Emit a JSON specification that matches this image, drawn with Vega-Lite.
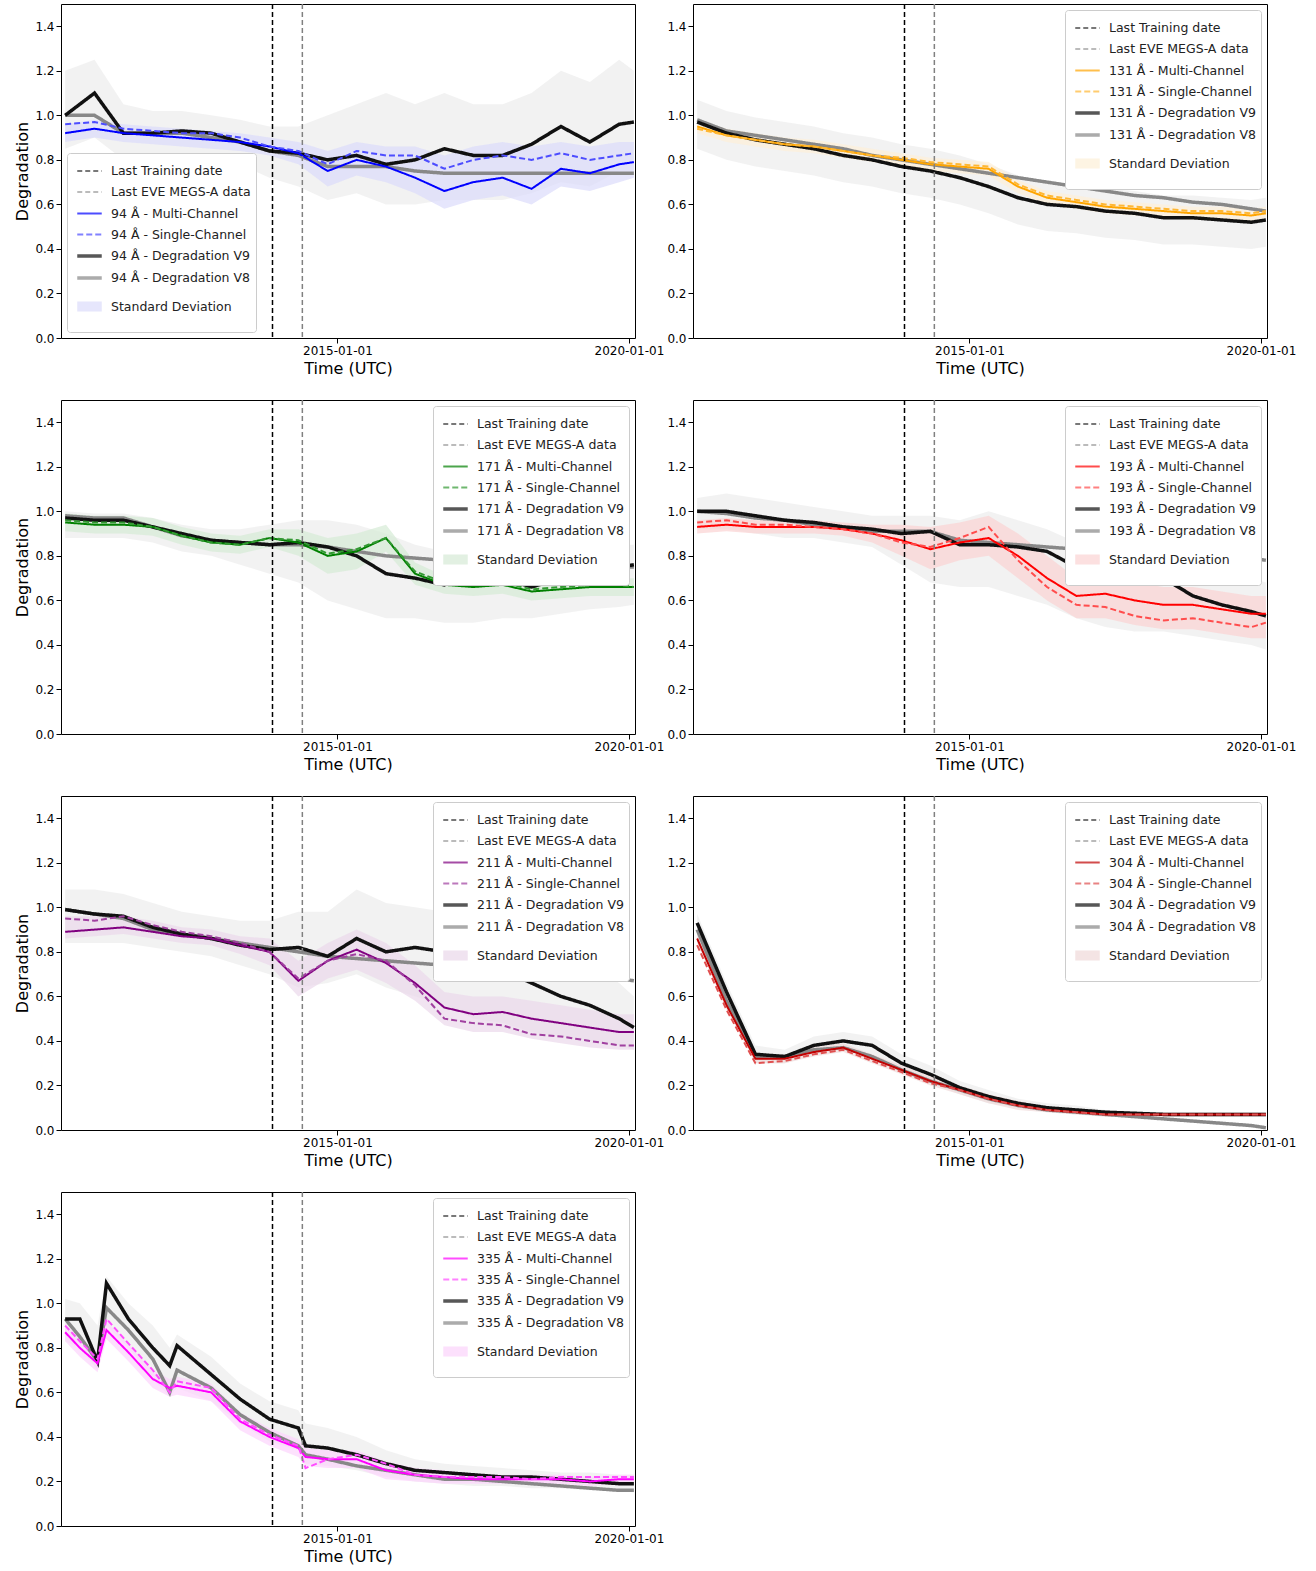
{
"$schema":"https://vega.github.io/schema/vega-lite/v6.json",
"columns":2,
"spacing":{"row":21,"column":1},
"padding":{"left":14,"top":2,"right":4,"bottom":4},
"resolve":{"scale":{"color":"independent","strokeDash":"independent","strokeWidth":"independent","x":"independent","y":"independent"},"legend":{"color":"independent","strokeDash":"independent","strokeWidth":"independent"}},
"concat":[
{"width":574,"height":334,
"data":{"values":[
{"d":"2010-05-01","m":0.92,"s":0.96,"v9":1.00,"v8":1.00,"lo":0.88,"hi":0.96,"gl":0.85,"gh":1.20},
{"d":"2010-11-01","m":0.94,"s":0.97,"v9":1.10,"v8":1.00,"lo":0.90,"hi":0.98,"gl":0.90,"gh":1.25},
{"d":"2011-05-01","m":0.92,"s":0.94,"v9":0.92,"v8":0.92,"lo":0.88,"hi":0.96,"gl":0.80,"gh":1.05},
{"d":"2011-11-01","m":0.91,"s":0.93,"v9":0.92,"v8":0.92,"lo":0.87,"hi":0.95,"gl":0.82,"gh":1.02},
{"d":"2012-05-01","m":0.90,"s":0.92,"v9":0.93,"v8":0.92,"lo":0.86,"hi":0.94,"gl":0.83,"gh":1.02},
{"d":"2012-11-01","m":0.89,"s":0.92,"v9":0.92,"v8":0.90,"lo":0.85,"hi":0.93,"gl":0.82,"gh":1.00},
{"d":"2013-05-01","m":0.88,"s":0.90,"v9":0.88,"v8":0.88,"lo":0.84,"hi":0.92,"gl":0.78,"gh":0.98},
{"d":"2013-11-01","m":0.86,"s":0.86,"v9":0.84,"v8":0.84,"lo":0.82,"hi":0.90,"gl":0.72,"gh":0.95},
{"d":"2014-05-01","m":0.83,"s":0.84,"v9":0.83,"v8":0.82,"lo":0.78,"hi":0.88,"gl":0.68,"gh":0.95},
{"d":"2014-11-01","m":0.75,"s":0.78,"v9":0.80,"v8":0.77,"lo":0.68,"hi":0.84,"gl":0.62,"gh":1.00},
{"d":"2015-05-01","m":0.80,"s":0.84,"v9":0.82,"v8":0.77,"lo":0.73,"hi":0.88,"gl":0.65,"gh":1.05},
{"d":"2015-11-01","m":0.77,"s":0.82,"v9":0.78,"v8":0.77,"lo":0.70,"hi":0.86,"gl":0.60,"gh":1.10},
{"d":"2016-05-01","m":0.72,"s":0.82,"v9":0.80,"v8":0.75,"lo":0.65,"hi":0.86,"gl":0.60,"gh":1.05},
{"d":"2016-11-01","m":0.66,"s":0.76,"v9":0.85,"v8":0.74,"lo":0.58,"hi":0.82,"gl":0.62,"gh":1.10},
{"d":"2017-05-01","m":0.70,"s":0.80,"v9":0.82,"v8":0.74,"lo":0.62,"hi":0.86,"gl":0.62,"gh":1.05},
{"d":"2017-11-01","m":0.72,"s":0.82,"v9":0.82,"v8":0.74,"lo":0.64,"hi":0.88,"gl":0.62,"gh":1.05},
{"d":"2018-05-01","m":0.67,"s":0.80,"v9":0.87,"v8":0.74,"lo":0.60,"hi":0.86,"gl":0.65,"gh":1.10},
{"d":"2018-11-01","m":0.76,"s":0.83,"v9":0.95,"v8":0.74,"lo":0.68,"hi":0.88,"gl":0.70,"gh":1.20},
{"d":"2019-05-01","m":0.74,"s":0.80,"v9":0.88,"v8":0.74,"lo":0.66,"hi":0.86,"gl":0.68,"gh":1.15},
{"d":"2019-11-01","m":0.78,"s":0.82,"v9":0.96,"v8":0.74,"lo":0.70,"hi":0.88,"gl":0.75,"gh":1.25},
{"d":"2020-02-01","m":0.79,"s":0.83,"v9":0.97,"v8":0.74,"lo":0.72,"hi":0.88,"gl":0.75,"gh":1.20}]},
"encoding":{"x":{"field":"d","type":"temporal","title":"Time (UTC)","scale":{"domain":["2010-04-05","2020-02-08"]},"axis":{"values":[{"year":2015,"month":1,"date":1},{"year":2020,"month":1,"date":1}],"format":"%Y-%m-%d"}}},
"layer":[
{"mark":{"type":"area","color":"#d9d9d9","opacity":0.35},"encoding":{"y":{"field":"gl","type":"quantitative","title":"Degradation","scale":{"domain":[0,1.5],"nice":false},"axis":{"values":[0,0.2,0.4,0.6,0.8,1,1.2,1.4],"format":".1f"}},"y2":{"field":"gh"}}},
{"transform":[{"fold":["lo"],"as":["k","val"]}],"mark":{"type":"area","opacity":0.7},"encoding":{"y":{"field":"val","type":"quantitative","title":"Degradation"},"y2":{"field":"hi"},
"color":{"field":"k","type":"nominal","scale":{"domain":["tr","eve","m","s","v9","v8","lo"],"range":["#000000","#808080","#0000ff","#4d4dff","#111111","#888888","#dcdcfb"]},"legend":{"title":null,"orient":"bottom-left","symbolType":"stroke","labelExpr":"{'tr':'Last Training date','eve':'Last EVE MEGS-A data','m':'94 Å - Multi-Channel','s':'94 Å - Single-Channel','v9':'94 Å - Degradation V9','v8':'94 Å - Degradation V8','lo':'Standard Deviation'}[datum.value]"}}}},
{"transform":[{"fold":["v8","v9","m","s"],"as":["k","val"]}],"mark":{"type":"line"},"encoding":{"y":{"field":"val","type":"quantitative","title":"Degradation"},
"color":{"field":"k","type":"nominal","scale":{"domain":["tr","eve","m","s","v9","v8","lo"],"range":["#000000","#808080","#0000ff","#4d4dff","#111111","#888888","#dcdcfb"]},"legend":{"title":null,"orient":"bottom-left","symbolType":"stroke","labelExpr":"{'tr':'Last Training date','eve':'Last EVE MEGS-A data','m':'94 Å - Multi-Channel','s':'94 Å - Single-Channel','v9':'94 Å - Degradation V9','v8':'94 Å - Degradation V8','lo':'Standard Deviation'}[datum.value]"}},
"strokeDash":{"field":"k","type":"nominal","scale":{"domain":["tr","eve","m","s","v9","v8","lo"],"range":[[5,3],[5,3],[1,0],[6,3],[1,0],[1,0],[1,0]]},"legend":{"title":null,"orient":"bottom-left","symbolType":"stroke","labelExpr":"{'tr':'Last Training date','eve':'Last EVE MEGS-A data','m':'94 Å - Multi-Channel','s':'94 Å - Single-Channel','v9':'94 Å - Degradation V9','v8':'94 Å - Degradation V8','lo':'Standard Deviation'}[datum.value]"}},
"strokeWidth":{"field":"k","type":"nominal","scale":{"type":"ordinal","domain":["tr","eve","m","s","v9","v8","lo"],"range":[1.5,1.5,2,2,3.5,3.5,10]},"legend":{"title":null,"orient":"bottom-left","symbolType":"stroke","labelExpr":"{'tr':'Last Training date','eve':'Last EVE MEGS-A data','m':'94 Å - Multi-Channel','s':'94 Å - Single-Channel','v9':'94 Å - Degradation V9','v8':'94 Å - Degradation V8','lo':'Standard Deviation'}[datum.value]"}}}},
{"data":{"values":[{"k":"tr","d":"2013-11-20"},{"k":"eve","d":"2014-05-26"}]},"mark":"rule","encoding":{
"color":{"field":"k","type":"nominal","scale":{"domain":["tr","eve","m","s","v9","v8","lo"],"range":["#000000","#808080","#0000ff","#4d4dff","#111111","#888888","#dcdcfb"]},"legend":{"title":null,"orient":"bottom-left","symbolType":"stroke","labelExpr":"{'tr':'Last Training date','eve':'Last EVE MEGS-A data','m':'94 Å - Multi-Channel','s':'94 Å - Single-Channel','v9':'94 Å - Degradation V9','v8':'94 Å - Degradation V8','lo':'Standard Deviation'}[datum.value]"}},
"strokeDash":{"field":"k","type":"nominal","scale":{"domain":["tr","eve","m","s","v9","v8","lo"],"range":[[5,3],[5,3],[1,0],[6,3],[1,0],[1,0],[1,0]]},"legend":{"title":null,"orient":"bottom-left","symbolType":"stroke","labelExpr":"{'tr':'Last Training date','eve':'Last EVE MEGS-A data','m':'94 Å - Multi-Channel','s':'94 Å - Single-Channel','v9':'94 Å - Degradation V9','v8':'94 Å - Degradation V8','lo':'Standard Deviation'}[datum.value]"}},
"strokeWidth":{"field":"k","type":"nominal","scale":{"type":"ordinal","domain":["tr","eve","m","s","v9","v8","lo"],"range":[1.5,1.5,2,2,3.5,3.5,10]},"legend":{"title":null,"orient":"bottom-left","symbolType":"stroke","labelExpr":"{'tr':'Last Training date','eve':'Last EVE MEGS-A data','m':'94 Å - Multi-Channel','s':'94 Å - Single-Channel','v9':'94 Å - Degradation V9','v8':'94 Å - Degradation V8','lo':'Standard Deviation'}[datum.value]"}}}}
]},
{"width":574,"height":334,
"data":{"values":[
{"d":"2010-05-01","m":0.95,"s":0.94,"v9":0.97,"v8":0.98,"lo":0.92,"hi":0.98,"gl":0.85,"gh":1.07},
{"d":"2010-11-01","m":0.91,"s":0.91,"v9":0.92,"v8":0.93,"lo":0.88,"hi":0.94,"gl":0.80,"gh":1.02},
{"d":"2011-05-01","m":0.89,"s":0.89,"v9":0.89,"v8":0.91,"lo":0.86,"hi":0.92,"gl":0.77,"gh":0.99},
{"d":"2011-11-01","m":0.87,"s":0.87,"v9":0.87,"v8":0.89,"lo":0.84,"hi":0.90,"gl":0.75,"gh":0.97},
{"d":"2012-05-01","m":0.86,"s":0.86,"v9":0.85,"v8":0.87,"lo":0.83,"hi":0.89,"gl":0.73,"gh":0.95},
{"d":"2012-11-01","m":0.84,"s":0.84,"v9":0.82,"v8":0.85,"lo":0.81,"hi":0.87,"gl":0.70,"gh":0.92},
{"d":"2013-05-01","m":0.82,"s":0.82,"v9":0.80,"v8":0.82,"lo":0.79,"hi":0.85,"gl":0.68,"gh":0.90},
{"d":"2013-11-01","m":0.80,"s":0.81,"v9":0.77,"v8":0.80,"lo":0.77,"hi":0.83,"gl":0.65,"gh":0.87},
{"d":"2014-05-01","m":0.78,"s":0.79,"v9":0.75,"v8":0.78,"lo":0.75,"hi":0.81,"gl":0.63,"gh":0.85},
{"d":"2014-11-01","m":0.77,"s":0.78,"v9":0.72,"v8":0.76,"lo":0.74,"hi":0.80,"gl":0.60,"gh":0.82},
{"d":"2015-05-01","m":0.76,"s":0.77,"v9":0.68,"v8":0.74,"lo":0.73,"hi":0.79,"gl":0.56,"gh":0.78},
{"d":"2015-11-01","m":0.68,"s":0.69,"v9":0.63,"v8":0.72,"lo":0.65,"hi":0.71,"gl":0.51,"gh":0.73},
{"d":"2016-05-01","m":0.63,"s":0.64,"v9":0.60,"v8":0.70,"lo":0.60,"hi":0.66,"gl":0.48,"gh":0.70},
{"d":"2016-11-01","m":0.61,"s":0.62,"v9":0.59,"v8":0.68,"lo":0.58,"hi":0.64,"gl":0.47,"gh":0.69},
{"d":"2017-05-01","m":0.59,"s":0.60,"v9":0.57,"v8":0.66,"lo":0.56,"hi":0.62,"gl":0.45,"gh":0.67},
{"d":"2017-11-01","m":0.58,"s":0.59,"v9":0.56,"v8":0.64,"lo":0.55,"hi":0.61,"gl":0.44,"gh":0.66},
{"d":"2018-05-01","m":0.57,"s":0.58,"v9":0.54,"v8":0.63,"lo":0.54,"hi":0.60,"gl":0.42,"gh":0.64},
{"d":"2018-11-01","m":0.56,"s":0.57,"v9":0.54,"v8":0.61,"lo":0.53,"hi":0.59,"gl":0.42,"gh":0.64},
{"d":"2019-05-01","m":0.56,"s":0.57,"v9":0.53,"v8":0.60,"lo":0.53,"hi":0.59,"gl":0.41,"gh":0.63},
{"d":"2019-11-01","m":0.55,"s":0.56,"v9":0.52,"v8":0.58,"lo":0.52,"hi":0.58,"gl":0.40,"gh":0.62},
{"d":"2020-02-01","m":0.56,"s":0.57,"v9":0.53,"v8":0.57,"lo":0.53,"hi":0.59,"gl":0.41,"gh":0.63}]},
"encoding":{"x":{"field":"d","type":"temporal","title":"Time (UTC)","scale":{"domain":["2010-04-05","2020-02-08"]},"axis":{"values":[{"year":2015,"month":1,"date":1},{"year":2020,"month":1,"date":1}],"format":"%Y-%m-%d"}}},
"layer":[
{"mark":{"type":"area","color":"#d9d9d9","opacity":0.35},"encoding":{"y":{"field":"gl","type":"quantitative","title":null,"scale":{"domain":[0,1.5],"nice":false},"axis":{"values":[0,0.2,0.4,0.6,0.8,1,1.2,1.4],"format":".1f"}},"y2":{"field":"gh"}}},
{"transform":[{"fold":["lo"],"as":["k","val"]}],"mark":{"type":"area","opacity":0.7},"encoding":{"y":{"field":"val","type":"quantitative","title":null},"y2":{"field":"hi"},
"color":{"field":"k","type":"nominal","scale":{"domain":["tr","eve","m","s","v9","v8","lo"],"range":["#000000","#808080","#ffa500","#ffb733","#111111","#888888","#fdf0d8"]},"legend":{"title":null,"orient":"top-right","symbolType":"stroke","labelExpr":"{'tr':'Last Training date','eve':'Last EVE MEGS-A data','m':'131 Å - Multi-Channel','s':'131 Å - Single-Channel','v9':'131 Å - Degradation V9','v8':'131 Å - Degradation V8','lo':'Standard Deviation'}[datum.value]"}}}},
{"transform":[{"fold":["v8","v9","m","s"],"as":["k","val"]}],"mark":{"type":"line"},"encoding":{"y":{"field":"val","type":"quantitative","title":null},
"color":{"field":"k","type":"nominal","scale":{"domain":["tr","eve","m","s","v9","v8","lo"],"range":["#000000","#808080","#ffa500","#ffb733","#111111","#888888","#fdf0d8"]},"legend":{"title":null,"orient":"top-right","symbolType":"stroke","labelExpr":"{'tr':'Last Training date','eve':'Last EVE MEGS-A data','m':'131 Å - Multi-Channel','s':'131 Å - Single-Channel','v9':'131 Å - Degradation V9','v8':'131 Å - Degradation V8','lo':'Standard Deviation'}[datum.value]"}},
"strokeDash":{"field":"k","type":"nominal","scale":{"domain":["tr","eve","m","s","v9","v8","lo"],"range":[[5,3],[5,3],[1,0],[6,3],[1,0],[1,0],[1,0]]},"legend":{"title":null,"orient":"top-right","symbolType":"stroke","labelExpr":"{'tr':'Last Training date','eve':'Last EVE MEGS-A data','m':'131 Å - Multi-Channel','s':'131 Å - Single-Channel','v9':'131 Å - Degradation V9','v8':'131 Å - Degradation V8','lo':'Standard Deviation'}[datum.value]"}},
"strokeWidth":{"field":"k","type":"nominal","scale":{"type":"ordinal","domain":["tr","eve","m","s","v9","v8","lo"],"range":[1.5,1.5,2,2,3.5,3.5,10]},"legend":{"title":null,"orient":"top-right","symbolType":"stroke","labelExpr":"{'tr':'Last Training date','eve':'Last EVE MEGS-A data','m':'131 Å - Multi-Channel','s':'131 Å - Single-Channel','v9':'131 Å - Degradation V9','v8':'131 Å - Degradation V8','lo':'Standard Deviation'}[datum.value]"}}}},
{"data":{"values":[{"k":"tr","d":"2013-11-20"},{"k":"eve","d":"2014-05-26"}]},"mark":"rule","encoding":{
"color":{"field":"k","type":"nominal","scale":{"domain":["tr","eve","m","s","v9","v8","lo"],"range":["#000000","#808080","#ffa500","#ffb733","#111111","#888888","#fdf0d8"]},"legend":{"title":null,"orient":"top-right","symbolType":"stroke","labelExpr":"{'tr':'Last Training date','eve':'Last EVE MEGS-A data','m':'131 Å - Multi-Channel','s':'131 Å - Single-Channel','v9':'131 Å - Degradation V9','v8':'131 Å - Degradation V8','lo':'Standard Deviation'}[datum.value]"}},
"strokeDash":{"field":"k","type":"nominal","scale":{"domain":["tr","eve","m","s","v9","v8","lo"],"range":[[5,3],[5,3],[1,0],[6,3],[1,0],[1,0],[1,0]]},"legend":{"title":null,"orient":"top-right","symbolType":"stroke","labelExpr":"{'tr':'Last Training date','eve':'Last EVE MEGS-A data','m':'131 Å - Multi-Channel','s':'131 Å - Single-Channel','v9':'131 Å - Degradation V9','v8':'131 Å - Degradation V8','lo':'Standard Deviation'}[datum.value]"}},
"strokeWidth":{"field":"k","type":"nominal","scale":{"type":"ordinal","domain":["tr","eve","m","s","v9","v8","lo"],"range":[1.5,1.5,2,2,3.5,3.5,10]},"legend":{"title":null,"orient":"top-right","symbolType":"stroke","labelExpr":"{'tr':'Last Training date','eve':'Last EVE MEGS-A data','m':'131 Å - Multi-Channel','s':'131 Å - Single-Channel','v9':'131 Å - Degradation V9','v8':'131 Å - Degradation V8','lo':'Standard Deviation'}[datum.value]"}}}}
]},
{"width":574,"height":334,
"data":{"values":[
{"d":"2010-05-01","m":0.95,"s":0.96,"v9":0.97,"v8":0.98,"lo":0.91,"hi":0.99,"gl":0.88,"gh":1.00},
{"d":"2010-11-01","m":0.94,"s":0.95,"v9":0.96,"v8":0.97,"lo":0.90,"hi":0.98,"gl":0.88,"gh":0.99},
{"d":"2011-05-01","m":0.94,"s":0.95,"v9":0.96,"v8":0.97,"lo":0.90,"hi":0.98,"gl":0.88,"gh":0.99},
{"d":"2011-11-01","m":0.93,"s":0.93,"v9":0.93,"v8":0.93,"lo":0.89,"hi":0.97,"gl":0.86,"gh":0.97},
{"d":"2012-05-01","m":0.89,"s":0.89,"v9":0.90,"v8":0.89,"lo":0.85,"hi":0.93,"gl":0.82,"gh":0.94},
{"d":"2012-11-01","m":0.86,"s":0.86,"v9":0.87,"v8":0.87,"lo":0.82,"hi":0.90,"gl":0.80,"gh":0.92},
{"d":"2013-05-01","m":0.85,"s":0.85,"v9":0.86,"v8":0.86,"lo":0.81,"hi":0.89,"gl":0.76,"gh":0.92},
{"d":"2013-11-01","m":0.88,"s":0.88,"v9":0.85,"v8":0.85,"lo":0.84,"hi":0.92,"gl":0.72,"gh":0.94},
{"d":"2014-05-01","m":0.86,"s":0.87,"v9":0.86,"v8":0.85,"lo":0.80,"hi":0.92,"gl":0.68,"gh":0.96},
{"d":"2014-11-01","m":0.80,"s":0.81,"v9":0.84,"v8":0.84,"lo":0.72,"hi":0.88,"gl":0.60,"gh":0.96},
{"d":"2015-05-01","m":0.82,"s":0.83,"v9":0.80,"v8":0.82,"lo":0.74,"hi":0.90,"gl":0.56,"gh":0.94},
{"d":"2015-11-01","m":0.88,"s":0.88,"v9":0.72,"v8":0.80,"lo":0.82,"hi":0.94,"gl":0.52,"gh":0.90},
{"d":"2016-05-01","m":0.72,"s":0.73,"v9":0.70,"v8":0.79,"lo":0.67,"hi":0.77,"gl":0.52,"gh":0.85},
{"d":"2016-11-01","m":0.67,"s":0.68,"v9":0.67,"v8":0.78,"lo":0.63,"hi":0.71,"gl":0.50,"gh":0.82},
{"d":"2017-05-01","m":0.66,"s":0.67,"v9":0.72,"v8":0.77,"lo":0.62,"hi":0.70,"gl":0.50,"gh":0.82},
{"d":"2017-11-01","m":0.67,"s":0.68,"v9":0.70,"v8":0.77,"lo":0.63,"hi":0.71,"gl":0.52,"gh":0.82},
{"d":"2018-05-01","m":0.64,"s":0.65,"v9":0.66,"v8":0.76,"lo":0.60,"hi":0.68,"gl":0.52,"gh":0.80},
{"d":"2018-11-01","m":0.65,"s":0.66,"v9":0.70,"v8":0.76,"lo":0.61,"hi":0.69,"gl":0.54,"gh":0.82},
{"d":"2019-05-01","m":0.66,"s":0.67,"v9":0.74,"v8":0.75,"lo":0.62,"hi":0.70,"gl":0.56,"gh":0.85},
{"d":"2019-11-01","m":0.66,"s":0.67,"v9":0.75,"v8":0.75,"lo":0.62,"hi":0.70,"gl":0.57,"gh":0.85},
{"d":"2020-02-01","m":0.66,"s":0.66,"v9":0.76,"v8":0.75,"lo":0.62,"hi":0.70,"gl":0.58,"gh":0.85}]},
"encoding":{"x":{"field":"d","type":"temporal","title":"Time (UTC)","scale":{"domain":["2010-04-05","2020-02-08"]},"axis":{"values":[{"year":2015,"month":1,"date":1},{"year":2020,"month":1,"date":1}],"format":"%Y-%m-%d"}}},
"layer":[
{"mark":{"type":"area","color":"#d9d9d9","opacity":0.35},"encoding":{"y":{"field":"gl","type":"quantitative","title":"Degradation","scale":{"domain":[0,1.5],"nice":false},"axis":{"values":[0,0.2,0.4,0.6,0.8,1,1.2,1.4],"format":".1f"}},"y2":{"field":"gh"}}},
{"transform":[{"fold":["lo"],"as":["k","val"]}],"mark":{"type":"area","opacity":0.7},"encoding":{"y":{"field":"val","type":"quantitative","title":"Degradation"},"y2":{"field":"hi"},
"color":{"field":"k","type":"nominal","scale":{"domain":["tr","eve","m","s","v9","v8","lo"],"range":["#000000","#808080","#008000","#339933","#111111","#888888","#d6ebd6"]},"legend":{"title":null,"orient":"top-right","symbolType":"stroke","labelExpr":"{'tr':'Last Training date','eve':'Last EVE MEGS-A data','m':'171 Å - Multi-Channel','s':'171 Å - Single-Channel','v9':'171 Å - Degradation V9','v8':'171 Å - Degradation V8','lo':'Standard Deviation'}[datum.value]"}}}},
{"transform":[{"fold":["v8","v9","m","s"],"as":["k","val"]}],"mark":{"type":"line"},"encoding":{"y":{"field":"val","type":"quantitative","title":"Degradation"},
"color":{"field":"k","type":"nominal","scale":{"domain":["tr","eve","m","s","v9","v8","lo"],"range":["#000000","#808080","#008000","#339933","#111111","#888888","#d6ebd6"]},"legend":{"title":null,"orient":"top-right","symbolType":"stroke","labelExpr":"{'tr':'Last Training date','eve':'Last EVE MEGS-A data','m':'171 Å - Multi-Channel','s':'171 Å - Single-Channel','v9':'171 Å - Degradation V9','v8':'171 Å - Degradation V8','lo':'Standard Deviation'}[datum.value]"}},
"strokeDash":{"field":"k","type":"nominal","scale":{"domain":["tr","eve","m","s","v9","v8","lo"],"range":[[5,3],[5,3],[1,0],[6,3],[1,0],[1,0],[1,0]]},"legend":{"title":null,"orient":"top-right","symbolType":"stroke","labelExpr":"{'tr':'Last Training date','eve':'Last EVE MEGS-A data','m':'171 Å - Multi-Channel','s':'171 Å - Single-Channel','v9':'171 Å - Degradation V9','v8':'171 Å - Degradation V8','lo':'Standard Deviation'}[datum.value]"}},
"strokeWidth":{"field":"k","type":"nominal","scale":{"type":"ordinal","domain":["tr","eve","m","s","v9","v8","lo"],"range":[1.5,1.5,2,2,3.5,3.5,10]},"legend":{"title":null,"orient":"top-right","symbolType":"stroke","labelExpr":"{'tr':'Last Training date','eve':'Last EVE MEGS-A data','m':'171 Å - Multi-Channel','s':'171 Å - Single-Channel','v9':'171 Å - Degradation V9','v8':'171 Å - Degradation V8','lo':'Standard Deviation'}[datum.value]"}}}},
{"data":{"values":[{"k":"tr","d":"2013-11-20"},{"k":"eve","d":"2014-05-26"}]},"mark":"rule","encoding":{
"color":{"field":"k","type":"nominal","scale":{"domain":["tr","eve","m","s","v9","v8","lo"],"range":["#000000","#808080","#008000","#339933","#111111","#888888","#d6ebd6"]},"legend":{"title":null,"orient":"top-right","symbolType":"stroke","labelExpr":"{'tr':'Last Training date','eve':'Last EVE MEGS-A data','m':'171 Å - Multi-Channel','s':'171 Å - Single-Channel','v9':'171 Å - Degradation V9','v8':'171 Å - Degradation V8','lo':'Standard Deviation'}[datum.value]"}},
"strokeDash":{"field":"k","type":"nominal","scale":{"domain":["tr","eve","m","s","v9","v8","lo"],"range":[[5,3],[5,3],[1,0],[6,3],[1,0],[1,0],[1,0]]},"legend":{"title":null,"orient":"top-right","symbolType":"stroke","labelExpr":"{'tr':'Last Training date','eve':'Last EVE MEGS-A data','m':'171 Å - Multi-Channel','s':'171 Å - Single-Channel','v9':'171 Å - Degradation V9','v8':'171 Å - Degradation V8','lo':'Standard Deviation'}[datum.value]"}},
"strokeWidth":{"field":"k","type":"nominal","scale":{"type":"ordinal","domain":["tr","eve","m","s","v9","v8","lo"],"range":[1.5,1.5,2,2,3.5,3.5,10]},"legend":{"title":null,"orient":"top-right","symbolType":"stroke","labelExpr":"{'tr':'Last Training date','eve':'Last EVE MEGS-A data','m':'171 Å - Multi-Channel','s':'171 Å - Single-Channel','v9':'171 Å - Degradation V9','v8':'171 Å - Degradation V8','lo':'Standard Deviation'}[datum.value]"}}}}
]},
{"width":574,"height":334,
"data":{"values":[
{"d":"2010-05-01","m":0.93,"s":0.95,"v9":1.00,"v8":1.00,"lo":0.90,"hi":0.96,"gl":0.92,"gh":1.06},
{"d":"2010-11-01","m":0.94,"s":0.96,"v9":1.00,"v8":0.99,"lo":0.91,"hi":0.97,"gl":0.92,"gh":1.08},
{"d":"2011-05-01","m":0.93,"s":0.94,"v9":0.98,"v8":0.97,"lo":0.90,"hi":0.96,"gl":0.90,"gh":1.06},
{"d":"2011-11-01","m":0.93,"s":0.94,"v9":0.96,"v8":0.96,"lo":0.90,"hi":0.96,"gl":0.88,"gh":1.04},
{"d":"2012-05-01","m":0.93,"s":0.93,"v9":0.95,"v8":0.94,"lo":0.90,"hi":0.96,"gl":0.88,"gh":1.02},
{"d":"2012-11-01","m":0.92,"s":0.92,"v9":0.93,"v8":0.93,"lo":0.89,"hi":0.95,"gl":0.86,"gh":1.00},
{"d":"2013-05-01","m":0.90,"s":0.90,"v9":0.92,"v8":0.91,"lo":0.86,"hi":0.94,"gl":0.84,"gh":0.98},
{"d":"2013-11-01","m":0.87,"s":0.86,"v9":0.90,"v8":0.91,"lo":0.80,"hi":0.94,"gl":0.76,"gh":0.98},
{"d":"2014-05-01","m":0.83,"s":0.84,"v9":0.91,"v8":0.91,"lo":0.74,"hi":0.93,"gl":0.68,"gh":0.98},
{"d":"2014-11-01","m":0.86,"s":0.88,"v9":0.85,"v8":0.87,"lo":0.78,"hi":0.95,"gl":0.66,"gh":0.96},
{"d":"2015-05-01","m":0.88,"s":0.93,"v9":0.85,"v8":0.86,"lo":0.80,"hi":0.98,"gl":0.66,"gh":1.00},
{"d":"2015-11-01","m":0.80,"s":0.78,"v9":0.84,"v8":0.85,"lo":0.70,"hi":0.90,"gl":0.62,"gh":0.96},
{"d":"2016-05-01","m":0.70,"s":0.66,"v9":0.82,"v8":0.84,"lo":0.60,"hi":0.80,"gl":0.58,"gh":0.92},
{"d":"2016-11-01","m":0.62,"s":0.58,"v9":0.75,"v8":0.83,"lo":0.52,"hi":0.70,"gl":0.52,"gh":0.86},
{"d":"2017-05-01","m":0.63,"s":0.57,"v9":0.70,"v8":0.82,"lo":0.52,"hi":0.72,"gl":0.48,"gh":0.84},
{"d":"2017-11-01","m":0.60,"s":0.53,"v9":0.68,"v8":0.82,"lo":0.49,"hi":0.68,"gl":0.46,"gh":0.82},
{"d":"2018-05-01","m":0.58,"s":0.51,"v9":0.70,"v8":0.81,"lo":0.47,"hi":0.66,"gl":0.46,"gh":0.80},
{"d":"2018-11-01","m":0.58,"s":0.52,"v9":0.62,"v8":0.80,"lo":0.47,"hi":0.66,"gl":0.44,"gh":0.76},
{"d":"2019-05-01","m":0.56,"s":0.50,"v9":0.58,"v8":0.80,"lo":0.45,"hi":0.64,"gl":0.42,"gh":0.72},
{"d":"2019-11-01","m":0.54,"s":0.48,"v9":0.55,"v8":0.79,"lo":0.43,"hi":0.62,"gl":0.40,"gh":0.70},
{"d":"2020-02-01","m":0.54,"s":0.50,"v9":0.53,"v8":0.78,"lo":0.43,"hi":0.62,"gl":0.38,"gh":0.68}]},
"encoding":{"x":{"field":"d","type":"temporal","title":"Time (UTC)","scale":{"domain":["2010-04-05","2020-02-08"]},"axis":{"values":[{"year":2015,"month":1,"date":1},{"year":2020,"month":1,"date":1}],"format":"%Y-%m-%d"}}},
"layer":[
{"mark":{"type":"area","color":"#d9d9d9","opacity":0.35},"encoding":{"y":{"field":"gl","type":"quantitative","title":null,"scale":{"domain":[0,1.5],"nice":false},"axis":{"values":[0,0.2,0.4,0.6,0.8,1,1.2,1.4],"format":".1f"}},"y2":{"field":"gh"}}},
{"transform":[{"fold":["lo"],"as":["k","val"]}],"mark":{"type":"area","opacity":0.7},"encoding":{"y":{"field":"val","type":"quantitative","title":null},"y2":{"field":"hi"},
"color":{"field":"k","type":"nominal","scale":{"domain":["tr","eve","m","s","v9","v8","lo"],"range":["#000000","#808080","#ff0000","#ff4d4d","#111111","#888888","#fbd3d3"]},"legend":{"title":null,"orient":"top-right","symbolType":"stroke","labelExpr":"{'tr':'Last Training date','eve':'Last EVE MEGS-A data','m':'193 Å - Multi-Channel','s':'193 Å - Single-Channel','v9':'193 Å - Degradation V9','v8':'193 Å - Degradation V8','lo':'Standard Deviation'}[datum.value]"}}}},
{"transform":[{"fold":["v8","v9","m","s"],"as":["k","val"]}],"mark":{"type":"line"},"encoding":{"y":{"field":"val","type":"quantitative","title":null},
"color":{"field":"k","type":"nominal","scale":{"domain":["tr","eve","m","s","v9","v8","lo"],"range":["#000000","#808080","#ff0000","#ff4d4d","#111111","#888888","#fbd3d3"]},"legend":{"title":null,"orient":"top-right","symbolType":"stroke","labelExpr":"{'tr':'Last Training date','eve':'Last EVE MEGS-A data','m':'193 Å - Multi-Channel','s':'193 Å - Single-Channel','v9':'193 Å - Degradation V9','v8':'193 Å - Degradation V8','lo':'Standard Deviation'}[datum.value]"}},
"strokeDash":{"field":"k","type":"nominal","scale":{"domain":["tr","eve","m","s","v9","v8","lo"],"range":[[5,3],[5,3],[1,0],[6,3],[1,0],[1,0],[1,0]]},"legend":{"title":null,"orient":"top-right","symbolType":"stroke","labelExpr":"{'tr':'Last Training date','eve':'Last EVE MEGS-A data','m':'193 Å - Multi-Channel','s':'193 Å - Single-Channel','v9':'193 Å - Degradation V9','v8':'193 Å - Degradation V8','lo':'Standard Deviation'}[datum.value]"}},
"strokeWidth":{"field":"k","type":"nominal","scale":{"type":"ordinal","domain":["tr","eve","m","s","v9","v8","lo"],"range":[1.5,1.5,2,2,3.5,3.5,10]},"legend":{"title":null,"orient":"top-right","symbolType":"stroke","labelExpr":"{'tr':'Last Training date','eve':'Last EVE MEGS-A data','m':'193 Å - Multi-Channel','s':'193 Å - Single-Channel','v9':'193 Å - Degradation V9','v8':'193 Å - Degradation V8','lo':'Standard Deviation'}[datum.value]"}}}},
{"data":{"values":[{"k":"tr","d":"2013-11-20"},{"k":"eve","d":"2014-05-26"}]},"mark":"rule","encoding":{
"color":{"field":"k","type":"nominal","scale":{"domain":["tr","eve","m","s","v9","v8","lo"],"range":["#000000","#808080","#ff0000","#ff4d4d","#111111","#888888","#fbd3d3"]},"legend":{"title":null,"orient":"top-right","symbolType":"stroke","labelExpr":"{'tr':'Last Training date','eve':'Last EVE MEGS-A data','m':'193 Å - Multi-Channel','s':'193 Å - Single-Channel','v9':'193 Å - Degradation V9','v8':'193 Å - Degradation V8','lo':'Standard Deviation'}[datum.value]"}},
"strokeDash":{"field":"k","type":"nominal","scale":{"domain":["tr","eve","m","s","v9","v8","lo"],"range":[[5,3],[5,3],[1,0],[6,3],[1,0],[1,0],[1,0]]},"legend":{"title":null,"orient":"top-right","symbolType":"stroke","labelExpr":"{'tr':'Last Training date','eve':'Last EVE MEGS-A data','m':'193 Å - Multi-Channel','s':'193 Å - Single-Channel','v9':'193 Å - Degradation V9','v8':'193 Å - Degradation V8','lo':'Standard Deviation'}[datum.value]"}},
"strokeWidth":{"field":"k","type":"nominal","scale":{"type":"ordinal","domain":["tr","eve","m","s","v9","v8","lo"],"range":[1.5,1.5,2,2,3.5,3.5,10]},"legend":{"title":null,"orient":"top-right","symbolType":"stroke","labelExpr":"{'tr':'Last Training date','eve':'Last EVE MEGS-A data','m':'193 Å - Multi-Channel','s':'193 Å - Single-Channel','v9':'193 Å - Degradation V9','v8':'193 Å - Degradation V8','lo':'Standard Deviation'}[datum.value]"}}}}
]},
{"width":574,"height":334,
"data":{"values":[
{"d":"2010-05-01","m":0.89,"s":0.95,"v9":0.99,"v8":0.99,"lo":0.86,"hi":0.96,"gl":0.84,"gh":1.08},
{"d":"2010-11-01","m":0.90,"s":0.94,"v9":0.97,"v8":0.97,"lo":0.87,"hi":0.96,"gl":0.84,"gh":1.08},
{"d":"2011-05-01","m":0.91,"s":0.96,"v9":0.96,"v8":0.95,"lo":0.88,"hi":0.96,"gl":0.84,"gh":1.06},
{"d":"2011-11-01","m":0.89,"s":0.92,"v9":0.91,"v8":0.90,"lo":0.86,"hi":0.94,"gl":0.82,"gh":1.02},
{"d":"2012-05-01","m":0.87,"s":0.89,"v9":0.88,"v8":0.88,"lo":0.84,"hi":0.91,"gl":0.80,"gh":0.98},
{"d":"2012-11-01","m":0.86,"s":0.87,"v9":0.86,"v8":0.86,"lo":0.83,"hi":0.90,"gl":0.78,"gh":0.96},
{"d":"2013-05-01","m":0.83,"s":0.84,"v9":0.83,"v8":0.84,"lo":0.79,"hi":0.87,"gl":0.74,"gh":0.94},
{"d":"2013-11-01","m":0.80,"s":0.80,"v9":0.81,"v8":0.82,"lo":0.74,"hi":0.86,"gl":0.70,"gh":0.94},
{"d":"2014-05-01","m":0.67,"s":0.68,"v9":0.82,"v8":0.80,"lo":0.60,"hi":0.76,"gl":0.64,"gh":0.98},
{"d":"2014-11-01","m":0.76,"s":0.76,"v9":0.78,"v8":0.78,"lo":0.68,"hi":0.84,"gl":0.66,"gh":0.98},
{"d":"2015-05-01","m":0.81,"s":0.79,"v9":0.86,"v8":0.77,"lo":0.72,"hi":0.90,"gl":0.70,"gh":1.08},
{"d":"2015-11-01","m":0.75,"s":0.76,"v9":0.80,"v8":0.76,"lo":0.66,"hi":0.84,"gl":0.64,"gh":1.02},
{"d":"2016-05-01","m":0.66,"s":0.65,"v9":0.82,"v8":0.75,"lo":0.58,"hi":0.74,"gl":0.60,"gh":1.00},
{"d":"2016-11-01","m":0.55,"s":0.50,"v9":0.80,"v8":0.74,"lo":0.47,"hi":0.62,"gl":0.56,"gh":0.98},
{"d":"2017-05-01","m":0.52,"s":0.48,"v9":0.70,"v8":0.73,"lo":0.44,"hi":0.60,"gl":0.50,"gh":0.90},
{"d":"2017-11-01","m":0.53,"s":0.47,"v9":0.72,"v8":0.72,"lo":0.44,"hi":0.60,"gl":0.48,"gh":0.90},
{"d":"2018-05-01","m":0.50,"s":0.43,"v9":0.66,"v8":0.71,"lo":0.41,"hi":0.58,"gl":0.44,"gh":0.86},
{"d":"2018-11-01","m":0.48,"s":0.42,"v9":0.60,"v8":0.70,"lo":0.39,"hi":0.56,"gl":0.42,"gh":0.80},
{"d":"2019-05-01","m":0.46,"s":0.40,"v9":0.56,"v8":0.69,"lo":0.37,"hi":0.54,"gl":0.40,"gh":0.74},
{"d":"2019-11-01","m":0.44,"s":0.38,"v9":0.50,"v8":0.68,"lo":0.36,"hi":0.52,"gl":0.38,"gh":0.66},
{"d":"2020-02-01","m":0.44,"s":0.38,"v9":0.46,"v8":0.67,"lo":0.36,"hi":0.52,"gl":0.36,"gh":0.60}]},
"encoding":{"x":{"field":"d","type":"temporal","title":"Time (UTC)","scale":{"domain":["2010-04-05","2020-02-08"]},"axis":{"values":[{"year":2015,"month":1,"date":1},{"year":2020,"month":1,"date":1}],"format":"%Y-%m-%d"}}},
"layer":[
{"mark":{"type":"area","color":"#d9d9d9","opacity":0.35},"encoding":{"y":{"field":"gl","type":"quantitative","title":"Degradation","scale":{"domain":[0,1.5],"nice":false},"axis":{"values":[0,0.2,0.4,0.6,0.8,1,1.2,1.4],"format":".1f"}},"y2":{"field":"gh"}}},
{"transform":[{"fold":["lo"],"as":["k","val"]}],"mark":{"type":"area","opacity":0.7},"encoding":{"y":{"field":"val","type":"quantitative","title":"Degradation"},"y2":{"field":"hi"},
"color":{"field":"k","type":"nominal","scale":{"domain":["tr","eve","m","s","v9","v8","lo"],"range":["#000000","#808080","#800080","#a040a0","#111111","#888888","#ebd8eb"]},"legend":{"title":null,"orient":"top-right","symbolType":"stroke","labelExpr":"{'tr':'Last Training date','eve':'Last EVE MEGS-A data','m':'211 Å - Multi-Channel','s':'211 Å - Single-Channel','v9':'211 Å - Degradation V9','v8':'211 Å - Degradation V8','lo':'Standard Deviation'}[datum.value]"}}}},
{"transform":[{"fold":["v8","v9","m","s"],"as":["k","val"]}],"mark":{"type":"line"},"encoding":{"y":{"field":"val","type":"quantitative","title":"Degradation"},
"color":{"field":"k","type":"nominal","scale":{"domain":["tr","eve","m","s","v9","v8","lo"],"range":["#000000","#808080","#800080","#a040a0","#111111","#888888","#ebd8eb"]},"legend":{"title":null,"orient":"top-right","symbolType":"stroke","labelExpr":"{'tr':'Last Training date','eve':'Last EVE MEGS-A data','m':'211 Å - Multi-Channel','s':'211 Å - Single-Channel','v9':'211 Å - Degradation V9','v8':'211 Å - Degradation V8','lo':'Standard Deviation'}[datum.value]"}},
"strokeDash":{"field":"k","type":"nominal","scale":{"domain":["tr","eve","m","s","v9","v8","lo"],"range":[[5,3],[5,3],[1,0],[6,3],[1,0],[1,0],[1,0]]},"legend":{"title":null,"orient":"top-right","symbolType":"stroke","labelExpr":"{'tr':'Last Training date','eve':'Last EVE MEGS-A data','m':'211 Å - Multi-Channel','s':'211 Å - Single-Channel','v9':'211 Å - Degradation V9','v8':'211 Å - Degradation V8','lo':'Standard Deviation'}[datum.value]"}},
"strokeWidth":{"field":"k","type":"nominal","scale":{"type":"ordinal","domain":["tr","eve","m","s","v9","v8","lo"],"range":[1.5,1.5,2,2,3.5,3.5,10]},"legend":{"title":null,"orient":"top-right","symbolType":"stroke","labelExpr":"{'tr':'Last Training date','eve':'Last EVE MEGS-A data','m':'211 Å - Multi-Channel','s':'211 Å - Single-Channel','v9':'211 Å - Degradation V9','v8':'211 Å - Degradation V8','lo':'Standard Deviation'}[datum.value]"}}}},
{"data":{"values":[{"k":"tr","d":"2013-11-20"},{"k":"eve","d":"2014-05-26"}]},"mark":"rule","encoding":{
"color":{"field":"k","type":"nominal","scale":{"domain":["tr","eve","m","s","v9","v8","lo"],"range":["#000000","#808080","#800080","#a040a0","#111111","#888888","#ebd8eb"]},"legend":{"title":null,"orient":"top-right","symbolType":"stroke","labelExpr":"{'tr':'Last Training date','eve':'Last EVE MEGS-A data','m':'211 Å - Multi-Channel','s':'211 Å - Single-Channel','v9':'211 Å - Degradation V9','v8':'211 Å - Degradation V8','lo':'Standard Deviation'}[datum.value]"}},
"strokeDash":{"field":"k","type":"nominal","scale":{"domain":["tr","eve","m","s","v9","v8","lo"],"range":[[5,3],[5,3],[1,0],[6,3],[1,0],[1,0],[1,0]]},"legend":{"title":null,"orient":"top-right","symbolType":"stroke","labelExpr":"{'tr':'Last Training date','eve':'Last EVE MEGS-A data','m':'211 Å - Multi-Channel','s':'211 Å - Single-Channel','v9':'211 Å - Degradation V9','v8':'211 Å - Degradation V8','lo':'Standard Deviation'}[datum.value]"}},
"strokeWidth":{"field":"k","type":"nominal","scale":{"type":"ordinal","domain":["tr","eve","m","s","v9","v8","lo"],"range":[1.5,1.5,2,2,3.5,3.5,10]},"legend":{"title":null,"orient":"top-right","symbolType":"stroke","labelExpr":"{'tr':'Last Training date','eve':'Last EVE MEGS-A data','m':'211 Å - Multi-Channel','s':'211 Å - Single-Channel','v9':'211 Å - Degradation V9','v8':'211 Å - Degradation V8','lo':'Standard Deviation'}[datum.value]"}}}}
]},
{"width":574,"height":334,
"data":{"values":[
{"d":"2010-05-01","m":0.86,"s":0.83,"v9":0.93,"v8":0.90,"lo":0.84,"hi":0.88,"gl":0.89,"gh":0.97},
{"d":"2010-11-01","m":0.56,"s":0.54,"v9":0.62,"v8":0.58,"lo":0.54,"hi":0.58,"gl":0.58,"gh":0.66},
{"d":"2011-05-01","m":0.32,"s":0.30,"v9":0.34,"v8":0.33,"lo":0.30,"hi":0.34,"gl":0.30,"gh":0.38},
{"d":"2011-11-01","m":0.32,"s":0.31,"v9":0.33,"v8":0.33,"lo":0.30,"hi":0.34,"gl":0.30,"gh":0.36},
{"d":"2012-05-01","m":0.35,"s":0.34,"v9":0.38,"v8":0.36,"lo":0.33,"hi":0.37,"gl":0.34,"gh":0.42},
{"d":"2012-11-01","m":0.37,"s":0.36,"v9":0.40,"v8":0.37,"lo":0.35,"hi":0.39,"gl":0.36,"gh":0.44},
{"d":"2013-05-01","m":0.32,"s":0.31,"v9":0.38,"v8":0.33,"lo":0.30,"hi":0.34,"gl":0.34,"gh":0.42},
{"d":"2013-11-01","m":0.27,"s":0.26,"v9":0.30,"v8":0.27,"lo":0.25,"hi":0.29,"gl":0.26,"gh":0.34},
{"d":"2014-05-01","m":0.22,"s":0.21,"v9":0.25,"v8":0.22,"lo":0.20,"hi":0.24,"gl":0.21,"gh":0.29},
{"d":"2014-11-01","m":0.18,"s":0.18,"v9":0.19,"v8":0.18,"lo":0.16,"hi":0.20,"gl":0.16,"gh":0.22},
{"d":"2015-05-01","m":0.14,"s":0.14,"v9":0.15,"v8":0.14,"lo":0.12,"hi":0.16,"gl":0.12,"gh":0.18},
{"d":"2015-11-01","m":0.11,"s":0.11,"v9":0.12,"v8":0.11,"lo":0.09,"hi":0.13,"gl":0.10,"gh":0.14},
{"d":"2016-05-01","m":0.09,"s":0.09,"v9":0.10,"v8":0.09,"lo":0.08,"hi":0.10,"gl":0.08,"gh":0.12},
{"d":"2016-11-01","m":0.08,"s":0.08,"v9":0.09,"v8":0.08,"lo":0.07,"hi":0.09,"gl":0.07,"gh":0.11},
{"d":"2017-05-01","m":0.07,"s":0.07,"v9":0.08,"v8":0.07,"lo":0.06,"hi":0.08,"gl":0.07,"gh":0.09},
{"d":"2017-11-01","m":0.07,"s":0.07,"v9":0.075,"v8":0.06,"lo":0.06,"hi":0.08,"gl":0.065,"gh":0.085},
{"d":"2018-05-01","m":0.07,"s":0.07,"v9":0.07,"v8":0.05,"lo":0.06,"hi":0.08,"gl":0.06,"gh":0.08},
{"d":"2018-11-01","m":0.07,"s":0.07,"v9":0.07,"v8":0.04,"lo":0.06,"hi":0.08,"gl":0.06,"gh":0.08},
{"d":"2019-05-01","m":0.07,"s":0.07,"v9":0.07,"v8":0.03,"lo":0.06,"hi":0.08,"gl":0.06,"gh":0.08},
{"d":"2019-11-01","m":0.07,"s":0.07,"v9":0.07,"v8":0.02,"lo":0.06,"hi":0.08,"gl":0.06,"gh":0.08},
{"d":"2020-02-01","m":0.07,"s":0.07,"v9":0.07,"v8":0.01,"lo":0.06,"hi":0.08,"gl":0.06,"gh":0.08}]},
"encoding":{"x":{"field":"d","type":"temporal","title":"Time (UTC)","scale":{"domain":["2010-04-05","2020-02-08"]},"axis":{"values":[{"year":2015,"month":1,"date":1},{"year":2020,"month":1,"date":1}],"format":"%Y-%m-%d"}}},
"layer":[
{"mark":{"type":"area","color":"#d9d9d9","opacity":0.35},"encoding":{"y":{"field":"gl","type":"quantitative","title":null,"scale":{"domain":[0,1.5],"nice":false},"axis":{"values":[0,0.2,0.4,0.6,0.8,1,1.2,1.4],"format":".1f"}},"y2":{"field":"gh"}}},
{"transform":[{"fold":["lo"],"as":["k","val"]}],"mark":{"type":"area","opacity":0.7},"encoding":{"y":{"field":"val","type":"quantitative","title":null},"y2":{"field":"hi"},
"color":{"field":"k","type":"nominal","scale":{"domain":["tr","eve","m","s","v9","v8","lo"],"range":["#000000","#808080","#c00000","#e05050","#111111","#888888","#f0dada"]},"legend":{"title":null,"orient":"top-right","symbolType":"stroke","labelExpr":"{'tr':'Last Training date','eve':'Last EVE MEGS-A data','m':'304 Å - Multi-Channel','s':'304 Å - Single-Channel','v9':'304 Å - Degradation V9','v8':'304 Å - Degradation V8','lo':'Standard Deviation'}[datum.value]"}}}},
{"transform":[{"fold":["v8","v9","m","s"],"as":["k","val"]}],"mark":{"type":"line"},"encoding":{"y":{"field":"val","type":"quantitative","title":null},
"color":{"field":"k","type":"nominal","scale":{"domain":["tr","eve","m","s","v9","v8","lo"],"range":["#000000","#808080","#c00000","#e05050","#111111","#888888","#f0dada"]},"legend":{"title":null,"orient":"top-right","symbolType":"stroke","labelExpr":"{'tr':'Last Training date','eve':'Last EVE MEGS-A data','m':'304 Å - Multi-Channel','s':'304 Å - Single-Channel','v9':'304 Å - Degradation V9','v8':'304 Å - Degradation V8','lo':'Standard Deviation'}[datum.value]"}},
"strokeDash":{"field":"k","type":"nominal","scale":{"domain":["tr","eve","m","s","v9","v8","lo"],"range":[[5,3],[5,3],[1,0],[6,3],[1,0],[1,0],[1,0]]},"legend":{"title":null,"orient":"top-right","symbolType":"stroke","labelExpr":"{'tr':'Last Training date','eve':'Last EVE MEGS-A data','m':'304 Å - Multi-Channel','s':'304 Å - Single-Channel','v9':'304 Å - Degradation V9','v8':'304 Å - Degradation V8','lo':'Standard Deviation'}[datum.value]"}},
"strokeWidth":{"field":"k","type":"nominal","scale":{"type":"ordinal","domain":["tr","eve","m","s","v9","v8","lo"],"range":[1.5,1.5,2,2,3.5,3.5,10]},"legend":{"title":null,"orient":"top-right","symbolType":"stroke","labelExpr":"{'tr':'Last Training date','eve':'Last EVE MEGS-A data','m':'304 Å - Multi-Channel','s':'304 Å - Single-Channel','v9':'304 Å - Degradation V9','v8':'304 Å - Degradation V8','lo':'Standard Deviation'}[datum.value]"}}}},
{"data":{"values":[{"k":"tr","d":"2013-11-20"},{"k":"eve","d":"2014-05-26"}]},"mark":"rule","encoding":{
"color":{"field":"k","type":"nominal","scale":{"domain":["tr","eve","m","s","v9","v8","lo"],"range":["#000000","#808080","#c00000","#e05050","#111111","#888888","#f0dada"]},"legend":{"title":null,"orient":"top-right","symbolType":"stroke","labelExpr":"{'tr':'Last Training date','eve':'Last EVE MEGS-A data','m':'304 Å - Multi-Channel','s':'304 Å - Single-Channel','v9':'304 Å - Degradation V9','v8':'304 Å - Degradation V8','lo':'Standard Deviation'}[datum.value]"}},
"strokeDash":{"field":"k","type":"nominal","scale":{"domain":["tr","eve","m","s","v9","v8","lo"],"range":[[5,3],[5,3],[1,0],[6,3],[1,0],[1,0],[1,0]]},"legend":{"title":null,"orient":"top-right","symbolType":"stroke","labelExpr":"{'tr':'Last Training date','eve':'Last EVE MEGS-A data','m':'304 Å - Multi-Channel','s':'304 Å - Single-Channel','v9':'304 Å - Degradation V9','v8':'304 Å - Degradation V8','lo':'Standard Deviation'}[datum.value]"}},
"strokeWidth":{"field":"k","type":"nominal","scale":{"type":"ordinal","domain":["tr","eve","m","s","v9","v8","lo"],"range":[1.5,1.5,2,2,3.5,3.5,10]},"legend":{"title":null,"orient":"top-right","symbolType":"stroke","labelExpr":"{'tr':'Last Training date','eve':'Last EVE MEGS-A data','m':'304 Å - Multi-Channel','s':'304 Å - Single-Channel','v9':'304 Å - Degradation V9','v8':'304 Å - Degradation V8','lo':'Standard Deviation'}[datum.value]"}}}}
]},
{"width":574,"height":334,
"data":{"values":[
{"d":"2010-05-01","m":0.87,"s":0.90,"v9":0.93,"v8":0.93,"lo":0.83,"hi":0.91,"gl":0.83,"gh":1.02},
{"d":"2010-08-01","m":0.80,"s":0.83,"v9":0.93,"v8":0.85,"lo":0.76,"hi":0.84,"gl":0.80,"gh":1.00},
{"d":"2010-11-20","m":0.73,"s":0.75,"v9":0.74,"v8":0.74,"lo":0.69,"hi":0.77,"gl":0.70,"gh":0.90},
{"d":"2011-01-15","m":0.88,"s":0.93,"v9":1.09,"v8":0.98,"lo":0.84,"hi":0.92,"gl":0.90,"gh":1.12},
{"d":"2011-06-01","m":0.78,"s":0.82,"v9":0.93,"v8":0.88,"lo":0.74,"hi":0.82,"gl":0.80,"gh":1.00},
{"d":"2011-11-01","m":0.66,"s":0.70,"v9":0.80,"v8":0.75,"lo":0.62,"hi":0.70,"gl":0.66,"gh":0.90},
{"d":"2012-02-15","m":0.62,"s":0.60,"v9":0.72,"v8":0.60,"lo":0.58,"hi":0.66,"gl":0.58,"gh":0.80},
{"d":"2012-04-01","m":0.63,"s":0.65,"v9":0.81,"v8":0.70,"lo":0.59,"hi":0.67,"gl":0.62,"gh":0.86},
{"d":"2012-11-01","m":0.60,"s":0.62,"v9":0.68,"v8":0.62,"lo":0.56,"hi":0.64,"gl":0.56,"gh":0.76},
{"d":"2013-05-01","m":0.47,"s":0.48,"v9":0.57,"v8":0.50,"lo":0.43,"hi":0.51,"gl":0.46,"gh":0.64},
{"d":"2013-11-01","m":0.40,"s":0.41,"v9":0.48,"v8":0.42,"lo":0.36,"hi":0.44,"gl":0.38,"gh":0.56},
{"d":"2014-05-01","m":0.35,"s":0.36,"v9":0.44,"v8":0.36,"lo":0.31,"hi":0.39,"gl":0.34,"gh":0.52},
{"d":"2014-06-15","m":0.31,"s":0.26,"v9":0.36,"v8":0.32,"lo":0.27,"hi":0.35,"gl":0.28,"gh":0.46},
{"d":"2014-11-01","m":0.30,"s":0.30,"v9":0.35,"v8":0.30,"lo":0.26,"hi":0.34,"gl":0.27,"gh":0.44},
{"d":"2015-05-01","m":0.30,"s":0.32,"v9":0.32,"v8":0.27,"lo":0.26,"hi":0.34,"gl":0.25,"gh":0.40},
{"d":"2015-11-01","m":0.25,"s":0.28,"v9":0.28,"v8":0.25,"lo":0.21,"hi":0.29,"gl":0.22,"gh":0.34},
{"d":"2016-05-01","m":0.23,"s":0.23,"v9":0.25,"v8":0.23,"lo":0.20,"hi":0.26,"gl":0.20,"gh":0.30},
{"d":"2016-11-01","m":0.22,"s":0.22,"v9":0.24,"v8":0.21,"lo":0.19,"hi":0.25,"gl":0.19,"gh":0.28},
{"d":"2017-05-01","m":0.21,"s":0.22,"v9":0.23,"v8":0.21,"lo":0.19,"hi":0.23,"gl":0.18,"gh":0.27},
{"d":"2017-11-01","m":0.21,"s":0.22,"v9":0.22,"v8":0.20,"lo":0.19,"hi":0.23,"gl":0.18,"gh":0.26},
{"d":"2018-05-01","m":0.21,"s":0.21,"v9":0.22,"v8":0.19,"lo":0.19,"hi":0.23,"gl":0.17,"gh":0.25},
{"d":"2018-11-01","m":0.21,"s":0.22,"v9":0.21,"v8":0.18,"lo":0.19,"hi":0.23,"gl":0.17,"gh":0.24},
{"d":"2019-05-01","m":0.20,"s":0.22,"v9":0.20,"v8":0.17,"lo":0.18,"hi":0.22,"gl":0.16,"gh":0.24},
{"d":"2019-11-01","m":0.21,"s":0.22,"v9":0.19,"v8":0.16,"lo":0.19,"hi":0.23,"gl":0.16,"gh":0.23},
{"d":"2020-02-01","m":0.21,"s":0.22,"v9":0.19,"v8":0.16,"lo":0.19,"hi":0.23,"gl":0.15,"gh":0.23}]},
"encoding":{"x":{"field":"d","type":"temporal","title":"Time (UTC)","scale":{"domain":["2010-04-05","2020-02-08"]},"axis":{"values":[{"year":2015,"month":1,"date":1},{"year":2020,"month":1,"date":1}],"format":"%Y-%m-%d"}}},
"layer":[
{"mark":{"type":"area","color":"#d9d9d9","opacity":0.35},"encoding":{"y":{"field":"gl","type":"quantitative","title":"Degradation","scale":{"domain":[0,1.5],"nice":false},"axis":{"values":[0,0.2,0.4,0.6,0.8,1,1.2,1.4],"format":".1f"}},"y2":{"field":"gh"}}},
{"transform":[{"fold":["lo"],"as":["k","val"]}],"mark":{"type":"area","opacity":0.7},"encoding":{"y":{"field":"val","type":"quantitative","title":"Degradation"},"y2":{"field":"hi"},
"color":{"field":"k","type":"nominal","scale":{"domain":["tr","eve","m","s","v9","v8","lo"],"range":["#000000","#808080","#ff00ff","#ff4dff","#111111","#888888","#fcd4fc"]},"legend":{"title":null,"orient":"top-right","symbolType":"stroke","labelExpr":"{'tr':'Last Training date','eve':'Last EVE MEGS-A data','m':'335 Å - Multi-Channel','s':'335 Å - Single-Channel','v9':'335 Å - Degradation V9','v8':'335 Å - Degradation V8','lo':'Standard Deviation'}[datum.value]"}}}},
{"transform":[{"fold":["v8","v9","m","s"],"as":["k","val"]}],"mark":{"type":"line"},"encoding":{"y":{"field":"val","type":"quantitative","title":"Degradation"},
"color":{"field":"k","type":"nominal","scale":{"domain":["tr","eve","m","s","v9","v8","lo"],"range":["#000000","#808080","#ff00ff","#ff4dff","#111111","#888888","#fcd4fc"]},"legend":{"title":null,"orient":"top-right","symbolType":"stroke","labelExpr":"{'tr':'Last Training date','eve':'Last EVE MEGS-A data','m':'335 Å - Multi-Channel','s':'335 Å - Single-Channel','v9':'335 Å - Degradation V9','v8':'335 Å - Degradation V8','lo':'Standard Deviation'}[datum.value]"}},
"strokeDash":{"field":"k","type":"nominal","scale":{"domain":["tr","eve","m","s","v9","v8","lo"],"range":[[5,3],[5,3],[1,0],[6,3],[1,0],[1,0],[1,0]]},"legend":{"title":null,"orient":"top-right","symbolType":"stroke","labelExpr":"{'tr':'Last Training date','eve':'Last EVE MEGS-A data','m':'335 Å - Multi-Channel','s':'335 Å - Single-Channel','v9':'335 Å - Degradation V9','v8':'335 Å - Degradation V8','lo':'Standard Deviation'}[datum.value]"}},
"strokeWidth":{"field":"k","type":"nominal","scale":{"type":"ordinal","domain":["tr","eve","m","s","v9","v8","lo"],"range":[1.5,1.5,2,2,3.5,3.5,10]},"legend":{"title":null,"orient":"top-right","symbolType":"stroke","labelExpr":"{'tr':'Last Training date','eve':'Last EVE MEGS-A data','m':'335 Å - Multi-Channel','s':'335 Å - Single-Channel','v9':'335 Å - Degradation V9','v8':'335 Å - Degradation V8','lo':'Standard Deviation'}[datum.value]"}}}},
{"data":{"values":[{"k":"tr","d":"2013-11-20"},{"k":"eve","d":"2014-05-26"}]},"mark":"rule","encoding":{
"color":{"field":"k","type":"nominal","scale":{"domain":["tr","eve","m","s","v9","v8","lo"],"range":["#000000","#808080","#ff00ff","#ff4dff","#111111","#888888","#fcd4fc"]},"legend":{"title":null,"orient":"top-right","symbolType":"stroke","labelExpr":"{'tr':'Last Training date','eve':'Last EVE MEGS-A data','m':'335 Å - Multi-Channel','s':'335 Å - Single-Channel','v9':'335 Å - Degradation V9','v8':'335 Å - Degradation V8','lo':'Standard Deviation'}[datum.value]"}},
"strokeDash":{"field":"k","type":"nominal","scale":{"domain":["tr","eve","m","s","v9","v8","lo"],"range":[[5,3],[5,3],[1,0],[6,3],[1,0],[1,0],[1,0]]},"legend":{"title":null,"orient":"top-right","symbolType":"stroke","labelExpr":"{'tr':'Last Training date','eve':'Last EVE MEGS-A data','m':'335 Å - Multi-Channel','s':'335 Å - Single-Channel','v9':'335 Å - Degradation V9','v8':'335 Å - Degradation V8','lo':'Standard Deviation'}[datum.value]"}},
"strokeWidth":{"field":"k","type":"nominal","scale":{"type":"ordinal","domain":["tr","eve","m","s","v9","v8","lo"],"range":[1.5,1.5,2,2,3.5,3.5,10]},"legend":{"title":null,"orient":"top-right","symbolType":"stroke","labelExpr":"{'tr':'Last Training date','eve':'Last EVE MEGS-A data','m':'335 Å - Multi-Channel','s':'335 Å - Single-Channel','v9':'335 Å - Degradation V9','v8':'335 Å - Degradation V8','lo':'Standard Deviation'}[datum.value]"}}}}
]}
],
"config":{
"font":"DejaVu Sans",
"view":{"stroke":"#000000","strokeWidth":1},
"axis":{"grid":false,"domain":false,"tickColor":"#000000","labelColor":"#000000","labelFontSize":12,"titleFontSize":16,"titleFontWeight":"normal","titleColor":"#000000"},
"axisX":{"labelOverlap":false,"labelFlush":false},
"legend":{"labelFontSize":12.5,"labelColor":"#222222","padding":5,"strokeColor":"#cccccc","fillColor":"#ffffff","cornerRadius":3,"rowPadding":1,"offset":6,"symbolSize":600,"labelLimit":300}
}
}
